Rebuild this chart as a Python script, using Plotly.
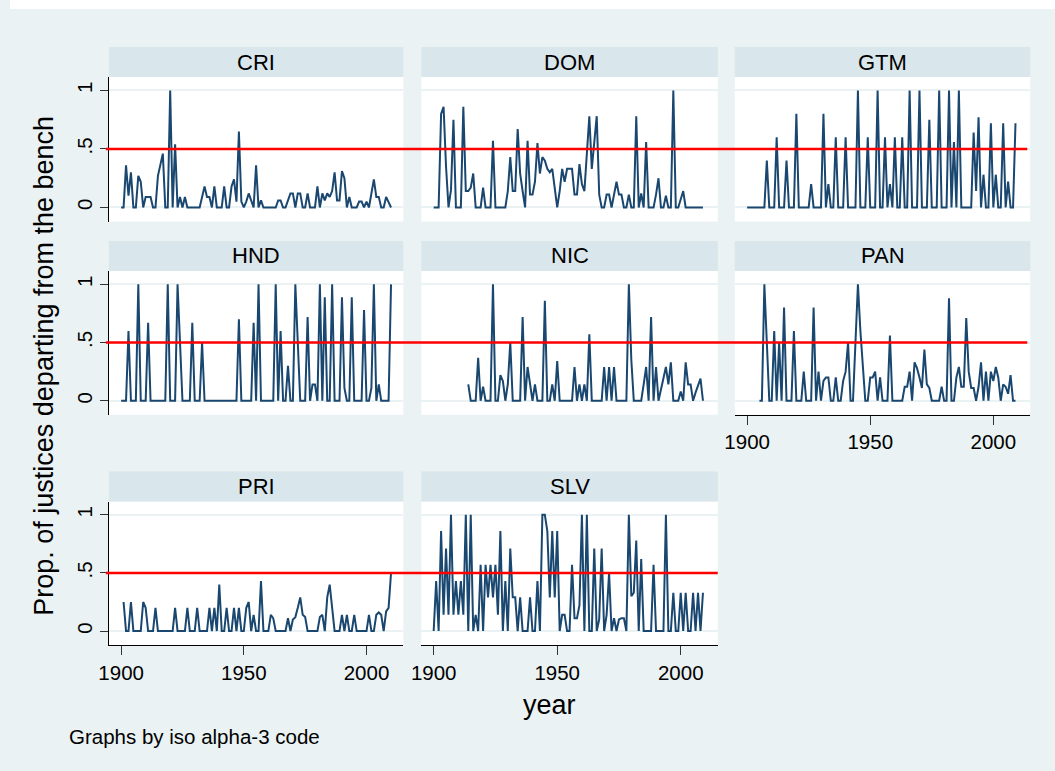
import plotly.graph_objects as go

# ---------------- data ----------------
THRESHOLD = 0.5
X_TICKS = [1900, 1950, 2000]
Y_TICKS = [0, 0.5, 1]
Y_TICK_TEXT = ["0", ".5", "1"]

CRI_START = 1900
CRI = [0, 0, .36, .1, .3, 0, 0, .27, .22, 0,
       .09, .09, .09, 0, 0, .27, .37, .46, 0, 0,
       1, 0, .54, 0, .09, 0, .09, 0, 0, 0,
       0, 0, 0, .09, .18, .09, .09, 0, .18, 0,
       0, 0, .18, 0, 0, .18, .24, .05, .65, .05,
       0, .05, .12, .06, 0, .36, 0, .06, 0, 0,
       0, 0, 0, 0, .06, .06, 0, 0, .06, .12,
       .12, 0, .12, .12, 0, 0, .12, 0, 0, 0,
       .18, 0, .12, .06, .12, .09, .14, .3, .06, .06,
       .31, .25, 0, .09, 0, 0, 0, .05, .05, 0,
       .05, 0, .12, .24, .09, .09, 0, 0, .09, .05,
       0]

DOM_START = 1900
DOM = [0, 0, 0, .8, .86, .35, 0, .15, .75, 0,
       0, 0, .86, .14, .14, .17, .29, 0, 0, 0,
       .17, 0, 0, 0, .57, 0, 0, 0, 0, 0,
       .14, .43, .14, .14, .67, .29, .14, 0, .57, .11,
       .11, .22, .55, .29, .43, .4, .33, .3, .33, .14,
       0, .14, .33, .22, .33, .33, .33, .11, .11, .37,
       .2, .14, .5, .78, .33, .55, .78, .11, 0, 0,
       .11, .11, 0, .11, .22, .11, .11, 0, 0, .11,
       0, 0, .78, 0, .12, 0, .56, 0, 0, 0,
       .11, .25, 0, 0, .1, 0, 0, 1, 0, 0,
       .07, .14, 0, 0, 0, 0, 0, 0, 0, 0]

GTM_START = 1900
GTM = [0, 0, 0, 0, 0, 0, 0, 0, .4, 0,
       0, 0, .6, 0, 0, 0, .4, 0, 0, 0,
       .8, 0, 0, 0, 0, 0, .2, 0, 0, 0,
       0, .8, 0, .2, 0, 0, .6, 0, 0, 0,
       .6, 0, 0, 0, 0, 1, 0, 0, 0, .6,
       0, 0, 0, 1, 0, 0, .6, 0, .2, 0,
       .6, 0, 0, .6, 0, 0, 1, 0, 0, 0,
       1, 0, 0, 0, .75, 0, 0, 0, 1, 0,
       0, 0, 1, 0, .56, 0, 1, 0, 0, 0,
       0, 0, .64, .14, .77, 0, .28, 0, 0, .72,
       0, .28, 0, 0, .72, 0, .22, 0, 0, .72]

HND_START = 1900
HND = [0, 0, 0, .6, 0, 0, 0, 1, 0, 0,
       0, .67, 0, 0, 0, 0, 0, 0, 0, 1,
       0, 0, 0, 1, .5, 0, 0, 0, 0, .67,
       0, 0, 0, .5, 0, 0, 0, 0, 0, 0,
       0, 0, 0, 0, 0, 0, 0, 0, .7, 0,
       0, 0, 0, 0, .67, 0, 1, 0, 0, 0,
       0, 0, 0, 1, 0, .6, 0, 0, .3, 0,
       0, 1, .5, 0, 0, 0, .72, 0, .14, .14,
       0, 1, 0, .89, 0, 0, 1, 0, 0, 0,
       .89, .11, 0, 0, .89, 0, 0, 0, 0, .78,
       0, 0, .11, 1, 0, .14, 0, 0, 0, 0,
       1]

NIC_START = 1914
NIC = [.14, 0, 0, 0, .37, 0,
       .12, 0, 0, 0, 1, 0, 0, .22, .17, 0,
       .14, .5, 0, 0, 0, 0, .72, 0, .29, .14,
       0, .14, 0, 0, 0, .86, 0, 0, .14, 0,
       .34, 0, 0, 0, 0, 0, 0, .29, 0, .14,
       0, .14, 0, .57, 0, 0, 0, 0, 0, .29,
       0, .29, 0, .29, 0, 0, 0, 0, 0, 1,
       .35, 0, 0, 0, 0, .14, .29, 0, .72, 0,
       .29, 0, .1, .22, .29, .14, .33, 0, 0, 0,
       .08, 0, .33, .14, .14, 0, .07, .13, .19, 0]

PAN_START = 1905
PAN = [0, 0, 1, .5, 0,
       0, .6, 0, .5, 0, .8, 0, 0, 0, .6,
       0, 0, 0, .25, 0, 0, 0, .8, 0, .25,
       0, .17, .2, .2, 0, 0, .2, 0, 0, .17,
       .25, .5, 0, 0, .5, 1, .6, .25, 0, 0,
       .2, .2, .25, 0, .2, 0, 0, 0, .56, 0,
       0, 0, 0, 0, .12, .12, .25, 0, .33, .28,
       .2, .11, .44, .14, .11, 0, 0, 0, 0, .12,
       0, 0, .88, 0, 0, .2, .29, .12, .12, .71,
       .25, .11, .11, 0, .12, .33, 0, .25, 0, .25,
       .17, .29, .2, 0, .14, .12, .06, .22, 0, 0]

PRI_START = 1901
PRI = [.25, 0, 0, .25, 0, 0, 0, 0, .25,
       .2, 0, 0, 0, .2, 0, 0, 0, 0, 0,
       0, 0, .2, 0, 0, 0, 0, .2, 0, 0,
       0, .2, 0, 0, 0, 0, .2, 0, .2, 0,
       .4, 0, 0, .2, 0, 0, .2, 0, .2, 0,
       0, .2, .25, 0, .14, 0, 0, .43, 0, 0,
       0, .14, .11, 0, 0, 0, 0, 0, .11, 0,
       .1, .12, .2, .29, .14, .12, 0, 0, 0, 0,
       0, .12, .14, 0, .29, .4, .2, 0, 0, 0,
       .14, 0, .14, 0, 0, .14, 0, 0, 0, 0,
       0, .14, 0, 0, .14, .16, .14, 0, .17, .2,
       .5]

SLV_START = 1900
SLV = [0, .43, 0, .86, .14, .71, .14, 1, .14, .43,
       .14, .43, .14, 1, 0, 1, 0, .14, 0, .57,
       0, .57, .29, .57, .29, .57, .14, .86, 0, .43,
       0, .71, .29, .29, 0, .29, 0, 0, 0, .29,
       0, 0, .43, 0, 1, 1, .86, .29, .86, .29,
       .86, 0, .14, .14, 0, 0, .57, .11, .11, .22,
       1, 0, 1, 0, 0, .71, 0, .1, .71, 0,
       .14, .5, 0, .11, 0, .1, .11, .11, 0, 1,
       .3, .33, .78, 0, .62, 0, 0, 0, 0, .57,
       0, 0, 0, 0, 1, 0, 0, .33, 0, 0,
       .33, 0, .33, 0, 0, .33, 0, .33, 0, .33]

# (label, row, col, start year, values)
PANELS = [
    ("CRI", 0, 0, CRI_START, CRI),
    ("DOM", 0, 1, DOM_START, DOM),
    ("GTM", 0, 2, GTM_START, GTM),
    ("HND", 1, 0, HND_START, HND),
    ("NIC", 1, 1, NIC_START, NIC),
    ("PAN", 1, 2, PAN_START, PAN),
    ("PRI", 2, 0, PRI_START, PRI),
    ("SLV", 2, 1, SLV_START, SLV),
]
BOTTOM_PANELS = {"PAN", "PRI", "SLV"}

# ---------------- layout geometry (target pixels) ----------------
W, H = 1055, 771
COL_X = [(110, 404), (422, 718), (735, 1030)]
ROW_Y = [(77, 221.5), (271, 414.7), (501.5, 645)]
STRIP_H = 30
X_RANGE = [1895, 2015]
Y_RANGE = [-0.12, 1.115]
# horizontal calibration of the capture (measured on a previous render)
CAL_A, CAL_B = 11.3, 0.989

FONT = "Liberation Sans, Arial, Helvetica, sans-serif"
NAVY = "#1A476F"
BG = "#EAF2F3"
STRIP = "#D9E6EB"


def fx(p):
    return ((p - CAL_A) / CAL_B) / W


def fy(p):
    return 1 - p / H


fig = go.Figure()
layout = dict(
    width=W, height=H,
    margin=dict(l=0, r=0, t=0, b=0),
    paper_bgcolor=BG,
    plot_bgcolor="white",
    showlegend=False,
    font=dict(family=FONT, color="black"),
)
shapes = []
annotations = []

# white outer margin at the top (as in reference)
shapes.append(dict(type="rect", xref="paper", yref="paper", x0=0, x1=1,
                   y0=fy(9), y1=1, fillcolor="white", line=dict(width=0), layer="below"))

row_yref = {}
for k, (name, r, c, start, vals) in enumerate(PANELS):
    idx = k + 1
    sfx = "" if idx == 1 else str(idx)
    xa, ya = "x" + sfx, "y" + sfx
    years = list(range(start, start + len(vals)))
    fig.add_trace(go.Scatter(x=years, y=vals, mode="lines",
                             line=dict(color=NAVY, width=2),
                             xaxis=xa, yaxis=ya, hoverinfo="skip"))
    bottom = name in BOTTOM_PANELS
    left = c == 0
    x0p, x1p = COL_X[c]
    y0p, y1p = ROW_Y[r]
    layout["xaxis" + sfx] = dict(
        domain=[fx(x0p), fx(x1p)], anchor=ya, range=X_RANGE,
        showgrid=False, zeroline=False,
        tickvals=X_TICKS, showticklabels=bottom,
        ticks="outside" if bottom else "", ticklen=9, tickwidth=1, tickcolor="#333",
        showline=bottom, linecolor="black", linewidth=1,
        tickfont=dict(size=20.5, family=FONT, color="black"),
    )
    layout["yaxis" + sfx] = dict(
        domain=[fy(y1p), fy(y0p)], anchor=xa, range=Y_RANGE,
        tickvals=Y_TICKS, ticktext=Y_TICK_TEXT,
        showgrid=True, gridcolor=BG, gridwidth=2, zeroline=False,
        showticklabels=left, ticks="outside" if left else "", ticklen=8,
        tickwidth=1, tickcolor="#333", tickangle=-90,
        showline=left, linecolor="black", linewidth=1,
        tickfont=dict(size=20.5, family=FONT, color="black"),
    )
    row_yref.setdefault(r, ya)
    # strip header
    shapes.append(dict(type="rect", xref="paper", yref="paper",
                       x0=fx(x0p), x1=fx(x1p), y0=fy(y0p), y1=fy(y0p - STRIP_H),
                       fillcolor=STRIP, line=dict(width=0), layer="below"))
    annotations.append(dict(text=name, xref="paper", yref="paper",
                            x=fx((x0p + x1p) / 2), y=fy(y0p - STRIP_H / 2),
                            xanchor="center", yanchor="middle", showarrow=False,
                            font=dict(size=22, family=FONT, color="black")))

# red reference line at THRESHOLD, continuous across each row
for r, ya in row_yref.items():
    right = 1027 if r < 2 else 718
    shapes.append(dict(type="line", xref="paper", yref=ya,
                       x0=fx(107), x1=fx(right), y0=THRESHOLD, y1=THRESHOLD,
                       line=dict(color="red", width=2.5), layer="above"))

annotations.append(dict(text="Prop. of justices departing from the bench",
                        xref="paper", yref="paper", x=fx(45), y=fy(366),
                        xanchor="center", yanchor="middle", textangle=-90,
                        showarrow=False, font=dict(size=27, family=FONT, color="black")))
annotations.append(dict(text="year", xref="paper", yref="paper", x=fx(550), y=fy(705),
                        xanchor="center", yanchor="middle", showarrow=False,
                        font=dict(size=27, family=FONT, color="black")))
annotations.append(dict(text="Graphs by iso alpha-3 code", xref="paper", yref="paper",
                        x=fx(68), y=fy(736), xanchor="left", yanchor="middle",
                        showarrow=False, font=dict(size=20.5, family=FONT, color="black")))

layout["shapes"] = shapes
layout["annotations"] = annotations
fig.update_layout(**layout)
fig.write_html("out.html", config={"displayModeBar": False},
               post_script="document.body.style.margin='0';document.body.style.overflow='hidden';")
